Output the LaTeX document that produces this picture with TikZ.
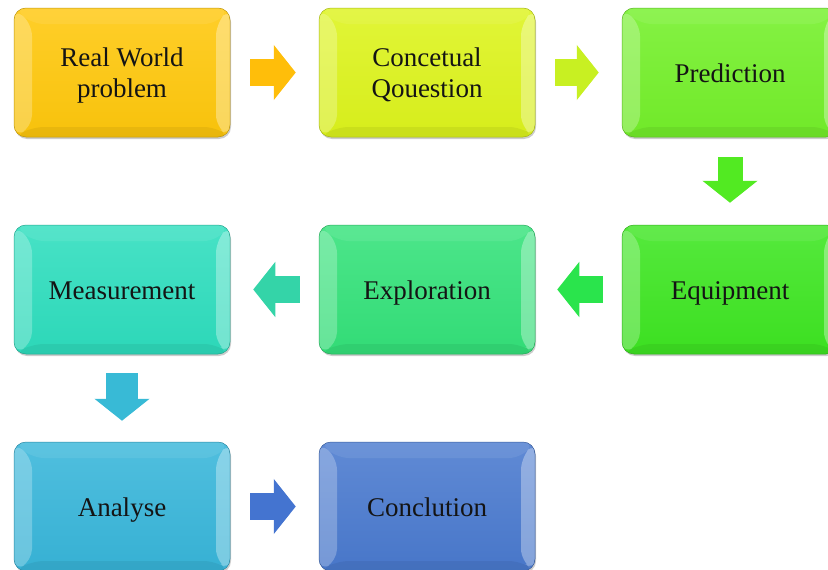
\documentclass[tikz,border=0pt]{standalone}
\usepackage{fontspec}
\setmainfont{Liberation Serif}
\usetikzlibrary{calc,arrows.meta,shadows}
\definecolor{cA}{HTML}{FFC80C}
\definecolor{cB}{HTML}{DDF41C}
\definecolor{cC}{HTML}{74F02A}
\definecolor{cD}{HTML}{3EE622}
\definecolor{cE}{HTML}{34E27A}
\definecolor{cF}{HTML}{2EDEBE}
\definecolor{cG}{HTML}{38B6DA}
\definecolor{cH}{HTML}{4A7ACF}
\definecolor{aA}{HTML}{FFBE0A}
\definecolor{aB}{HTML}{C8F022}
\definecolor{aC}{HTML}{52EA22}
\definecolor{aD}{HTML}{2AE44C}
\definecolor{aE}{HTML}{34D4A8}
\definecolor{aF}{HTML}{38BAD6}
\definecolor{aG}{HTML}{4474D0}
\tikzset{
  box/.style={draw=#1!75!black, line width=0.5pt,
    top color=#1!88!white, bottom color=#1!97!black,
    rounded corners=12pt, minimum width=216pt, minimum height=129pt,
    inner sep=0pt, align=center, text=black!92,
    font=\fontsize{27}{31}\selectfont,
    text height=19pt, text depth=0pt,
    drop shadow={shadow xshift=1pt, shadow yshift=-2pt, fill=black, opacity=0.2},
    path picture={
      \coordinate (onw) at (path picture bounding box.north west);
      \coordinate (one) at (path picture bounding box.north east);
      \coordinate (ose) at (path picture bounding box.south east);
      \coordinate (osw) at (path picture bounding box.south west);
      \coordinate (inw) at ($(onw)+(18pt,-16pt)$);
      \coordinate (ine) at ($(one)+(-14pt,-16pt)$);
      \coordinate (ise) at ($(ose)+(-14pt,10pt)$);
      \coordinate (isw) at ($(osw)+(18pt,10pt)$);
      \fill[white, opacity=0.08] (onw) -- (one) -- (ine) -- (inw) -- cycle;
      \fill[white, opacity=0.25] (onw) -- (inw) -- (isw) -- (osw) -- cycle;
      \fill[white, opacity=0.33] (one) -- (ine) -- (ise) -- (ose) -- cycle;
      \fill[black, opacity=0.06] (osw) -- (isw) -- (ise) -- (ose) -- cycle;
    }},
  twoline/.style={text height=50pt, text depth=0pt},
  barrow/.style={draw=#1, line width=27pt,
    -{Triangle[length=22pt, width=54pt]}},
}
\begin{document}
\begin{tikzpicture}[x=1pt, y=-1pt]
\clip (0,0) rectangle (828,570);
\fill[white] (0,0) rectangle (828,570);
% row 1
\node[box=cA, twoline] (real) at (122,72.5) {Real World\\problem};
\node[box=cB, twoline] (conc) at (427,72.5) {Concetual\\Qouestion};
\node[box=cC] (pred) at (730,72.5) {Prediction};
% row 2
\node[box=cD] (equi) at (730,289.5) {Equipment};
\node[box=cE] (expl) at (427,289.5) {Exploration};
\node[box=cF] (meas) at (122,289.5) {Measurement};
% row 3
\node[box=cG] (anal) at (122,506.5) {Analyse};
\node[box=cH] (conl) at (427,506.5) {Conclution};
% connectors
\draw[barrow=aA, shorten <=20pt, shorten >=23pt] (real.east) -- (conc.west);
\draw[barrow=aB, shorten <=20pt, shorten >=23pt] (conc.east) -- (pred.west);
\draw[barrow=aC, line width=25pt, shorten <=20pt, shorten >=22pt] (pred.south) -- (equi.north);
\draw[barrow=aD, shorten <=19pt, shorten >=22pt] (equi.west) -- (expl.east);
\draw[barrow=aE, shorten <=19pt, shorten >=23pt] (expl.west) -- (meas.east);
\draw[barrow=aF, line width=32pt, shorten <=19pt, shorten >=21pt] (meas.south) -- (anal.north);
\draw[barrow=aG, shorten <=20pt, shorten >=23pt] (anal.east) -- (conl.west);
\end{tikzpicture}
\end{document}
